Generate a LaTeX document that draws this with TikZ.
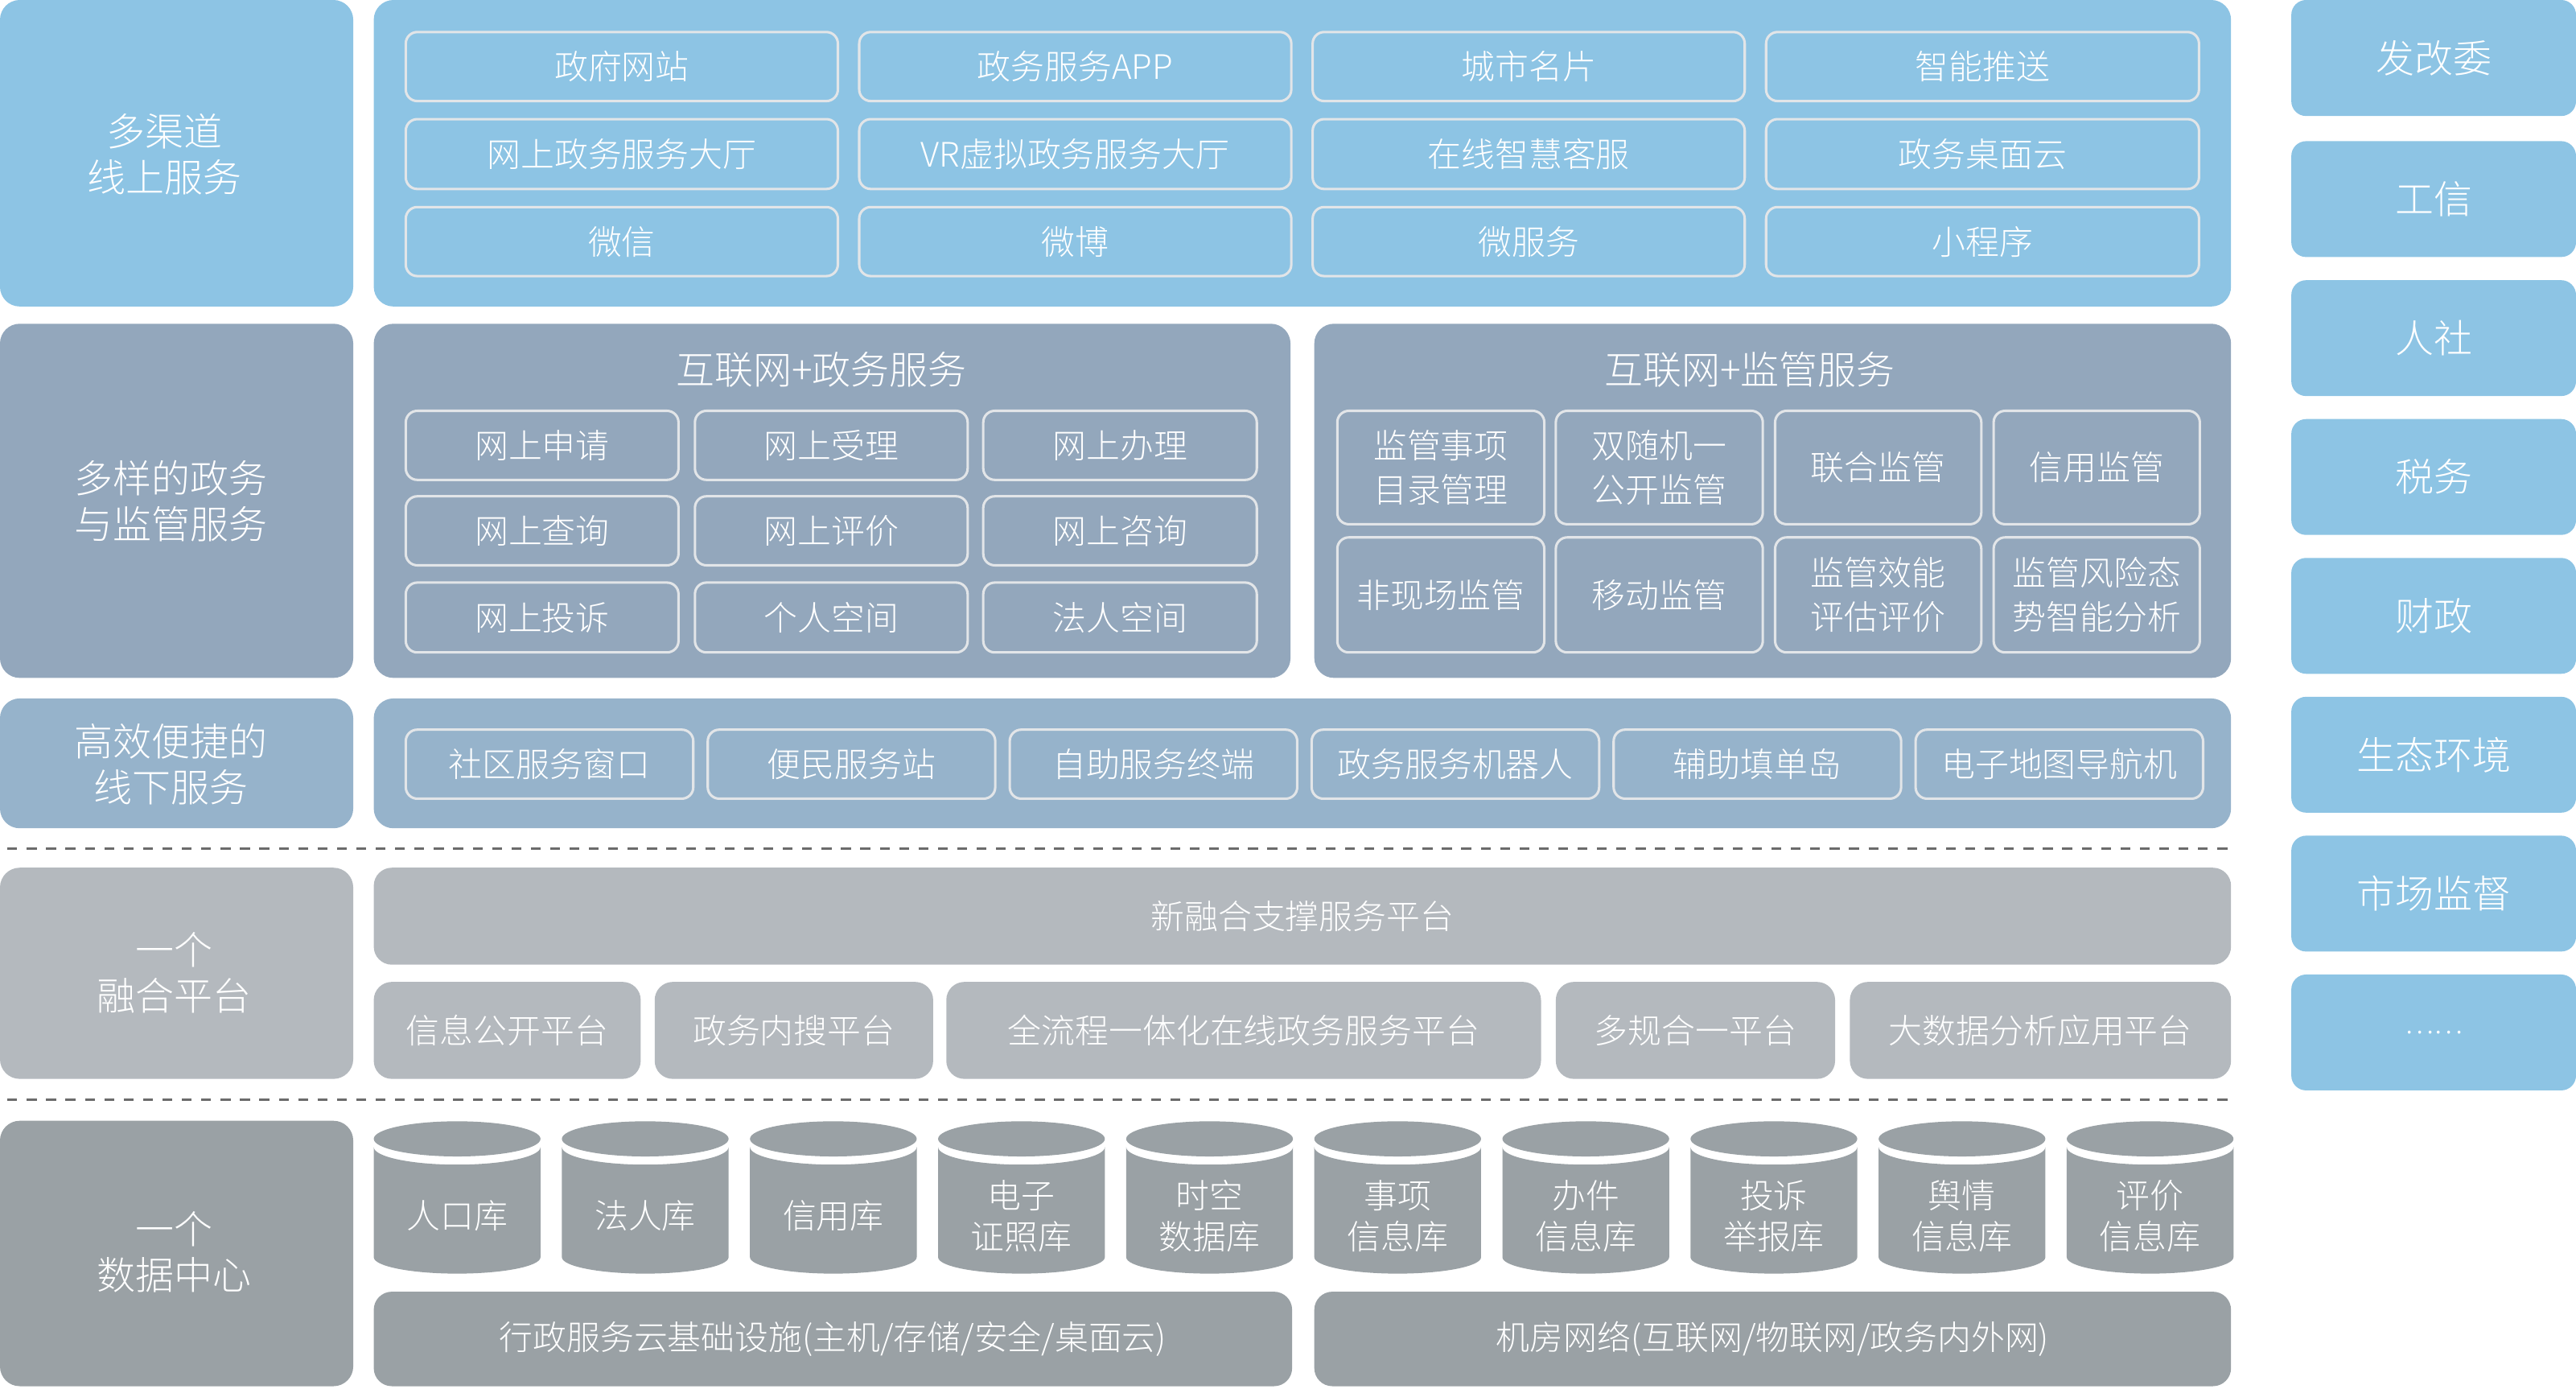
\documentclass[tikz,border=0pt]{standalone}
\usepackage{fontspec}
\IfFontExistsTF{Noto Sans CJK SC Light}{\setmainfont{Noto Sans CJK SC Light}}{\setmainfont{Noto Sans CJK SC}}
\definecolor{cA}{HTML}{8DC4E4}
\definecolor{cB}{HTML}{93A7BC}
\definecolor{cC}{HTML}{96B3CB}
\definecolor{cD}{HTML}{B4B9BE}
\definecolor{cE}{HTML}{9AA1A5}
\definecolor{cellline}{HTML}{E2E5E8}
\definecolor{dashc}{HTML}{6B6B6B}
\newcommand{\placebox}[7]{\node[#2, minimum width={(#5)-(#3)}, minimum height={(#6)-(#4)}] (#1) at ({((#3)+(#5))/2},{-((#4)+(#6))/2}) {#7};}
\tikzset{
  lbl/.style={rounded corners=12pt, inner sep=0pt, outer sep=0pt, text=white, align=center, font=\fontsize{23.5}{28}\selectfont},
  panel/.style={rounded corners=12pt, inner sep=0pt, outer sep=0pt},
  cell/.style={draw=cellline, line width=1.5pt, rounded corners=7pt, inner sep=0pt, text=white, align=center, font=\fontsize{20.5}{27}\selectfont},
  plat/.style={rounded corners=11pt, fill=cD, text=white, align=center, font=\fontsize{20.5}{24}\selectfont, inner sep=0pt},
  infra/.style={rounded corners=11pt, fill=cE, text=white, align=center, font=\fontsize{20.5}{24}\selectfont, inner sep=0pt},
  dept/.style={rounded corners=9pt, fill=cA, text=white, align=center, font=\fontsize{23.5}{28}\selectfont, inner sep=0pt},
  sepline/.style={draw=dashc, line width=1.5pt, dash pattern=on 6pt off 5.8pt},
  cyl/.style={fill=cE},
  cyllbl/.style={text=white, align=center, font=\fontsize{20.5}{25}\selectfont, inner sep=0pt},
  ttl/.style={text=white, font=\fontsize{23.5}{28}\selectfont, inner sep=0pt},
  lbltext/.style={text=white, align=center, font=\fontsize{23.5}{28}\selectfont, inner sep=0pt}
}
\begin{document}
\begin{tikzpicture}[x=1pt,y=1pt]
\useasboundingbox (0,0) rectangle (1568,-845);
% ---------- Row 1 ----------
\placebox{L1}{lbl, fill=cA}{0}{0}{215}{186.5}{}
\node[lbltext] (L1t) at (100,-94) {多渠道\\线上服务};
\placebox{P1}{panel, fill=cA}{227.5}{0}{1358}{186.5}{}
\placebox{a11}{cell}{247}{19.5}{510}{61.5}{政府网站}
\placebox{a12}{cell}{523}{19.5}{786}{61.5}{政务服务APP}
\placebox{a13}{cell}{799}{19.5}{1062}{61.5}{城市名片}
\placebox{a14}{cell}{1075}{19.5}{1338.5}{61.5}{智能推送}
\placebox{a21}{cell}{247}{72.5}{510}{115}{网上政务服务大厅}
\placebox{a22}{cell}{523}{72.5}{786}{115}{VR虚拟政务服务大厅}
\placebox{a23}{cell}{799}{72.5}{1062}{115}{在线智慧客服}
\placebox{a24}{cell}{1075}{72.5}{1338.5}{115}{政务桌面云}
\placebox{a31}{cell}{247}{126}{510}{168}{微信}
\placebox{a32}{cell}{523}{126}{786}{168}{微博}
\placebox{a33}{cell}{799}{126}{1062}{168}{微服务}
\placebox{a34}{cell}{1075}{126}{1338.5}{168}{小程序}
% ---------- Row 2 ----------
\placebox{L2}{lbl, fill=cB}{0}{197}{215}{412.5}{}
\node[lbltext] (L2t) at (104,-305) {多样的政务\\与监管服务};
\placebox{P2a}{panel, fill=cB}{227.5}{197}{785.5}{412.5}{}
\placebox{P2b}{panel, fill=cB}{800}{197}{1358}{412.5}{}
\node[ttl] (T2a) at (500,-225) {互联网+政务服务};
\node[ttl] (T2b) at (1065,-225) {互联网+监管服务};
\placebox{b11}{cell}{247}{250}{413}{292}{网上申请}
\placebox{b12}{cell}{423}{250}{589}{292}{网上受理}
\placebox{b13}{cell}{598.5}{250}{765}{292}{网上办理}
\placebox{b21}{cell}{247}{302}{413}{344}{网上查询}
\placebox{b22}{cell}{423}{302}{589}{344}{网上评价}
\placebox{b23}{cell}{598.5}{302}{765}{344}{网上咨询}
\placebox{b31}{cell}{247}{354.5}{413}{397}{网上投诉}
\placebox{b32}{cell}{423}{354.5}{589}{397}{个人空间}
\placebox{b33}{cell}{598.5}{354.5}{765}{397}{法人空间}
\placebox{c11}{cell}{814}{250}{940}{319}{监管事项\\目录管理}
\placebox{c12}{cell}{947}{250}{1073}{319}{双随机一\\公开监管}
\placebox{c13}{cell}{1080.5}{250}{1206}{319}{联合监管}
\placebox{c14}{cell}{1213.5}{250}{1339}{319}{信用监管}
\placebox{c21}{cell}{814}{327}{940}{397}{非现场监管}
\placebox{c22}{cell}{947}{327}{1073}{397}{移动监管}
\placebox{c23}{cell}{1080.5}{327}{1206}{397}{监管效能\\评估评价}
\placebox{c24}{cell}{1213.5}{327}{1339}{397}{监管风险态\\势智能分析}
% ---------- Row 3 ----------
\placebox{L3}{lbl, fill=cC}{0}{425}{215}{504}{}
\node[lbltext] (L3t) at (104,-465) {高效便捷的\\线下服务};
\placebox{P3}{panel, fill=cC}{227.5}{425}{1358}{504}{}
\placebox{d1}{cell}{247}{444}{422}{486}{社区服务窗口}
\placebox{d2}{cell}{430.8}{444}{605.8}{486}{便民服务站}
\placebox{d3}{cell}{614.6}{444}{789.6}{486}{自助服务终端}
\placebox{d4}{cell}{798.4}{444}{973.4}{486}{政务服务机器人}
\placebox{d5}{cell}{982.2}{444}{1157.2}{486}{辅助填单岛}
\placebox{d6}{cell}{1166}{444}{1341}{486}{电子地图导航机}
% ---------- separator 1 ----------
\coordinate (s1a) at (4.5,-516.2);
\coordinate (s1b) at (1357,-516.2);
\draw[sepline] (s1a) -- (s1b);
% ---------- Row 4 ----------
\placebox{L4}{lbl, fill=cD}{0}{528}{215}{656.5}{}
\node[lbltext] (L4t) at (106,-592) {一个\\融合平台};
\placebox{e0}{plat}{227.5}{528}{1358}{587}{新融合支撑服务平台}
\placebox{e1}{plat}{227.5}{597.5}{390}{656.5}{信息公开平台}
\placebox{e2}{plat}{398.5}{597.5}{568}{656.5}{政务内搜平台}
\placebox{e3}{plat}{576}{597.5}{938}{656.5}{全流程一体化在线政务服务平台}
\placebox{e4}{plat}{947}{597.5}{1117}{656.5}{多规合一平台}
\placebox{e5}{plat}{1126}{597.5}{1358}{656.5}{大数据分析应用平台}
% ---------- separator 2 ----------
\coordinate (s2a) at (4.5,-669);
\coordinate (s2b) at (1357,-669);
\draw[sepline] (s2a) -- (s2b);
% ---------- Row 5 ----------
\placebox{L5}{lbl, fill=cE}{0}{682}{215}{843.5}{}
\node[lbltext] (L5t) at (106,-762) {一个\\数据中心};
\foreach \i/\t in {0/人口库, 1/法人库, 2/信用库, 3/电子\\证照库, 4/时空\\数据库, 5/事项\\信息库, 6/办件\\信息库, 7/投诉\\举报库, 8/舆情\\信息库, 9/评价\\信息库} {
  \pgfmathsetmacro\Lx{227.5+114.5*\i}
  \pgfmathsetmacro\Rx{\Lx+101.5}
  \pgfmathsetmacro\Cx{\Lx+50.75}
  \fill[cyl] (\Lx,-698) -- (\Lx,-765) arc[start angle=180, end angle=360, x radius=50.75pt, y radius=10pt] -- (\Rx,-698) arc[start angle=0, end angle=-180, x radius=50.75pt, y radius=10.7pt] -- cycle;
  \fill[cyl] (\Cx,-693) ellipse [x radius=50.75pt, y radius=10.7pt];
  \node[cyllbl] (db\i) at (\Cx,-740) {\t};
}
\placebox{f1}{infra}{227.5}{786}{786.5}{843.5}{行政服务云基础设施(主机/存储/安全/桌面云)}
\placebox{f2}{infra}{800}{786}{1358}{843.5}{机房网络(互联网/物联网/政务内外网)}
% ---------- Right column ----------
\placebox{g1}{dept}{1394.7}{0}{1568}{70.6}{发改委}
\placebox{g2}{dept}{1394.7}{85.9}{1568}{156.4}{工信}
\placebox{g3}{dept}{1394.7}{170.5}{1568}{241}{人社}
\placebox{g4}{dept}{1394.7}{255}{1568}{325.5}{税务}
\placebox{g5}{dept}{1394.7}{339.5}{1568}{410}{财政}
\placebox{g6}{dept}{1394.7}{424}{1568}{494.5}{生态环境}
\placebox{g7}{dept}{1394.7}{508.5}{1568}{579}{市场监督}
\placebox{g8}{dept}{1394.7}{593}{1568}{663.5}{\fontsize{17}{20}\selectfont ……}
\end{tikzpicture}
\end{document}
